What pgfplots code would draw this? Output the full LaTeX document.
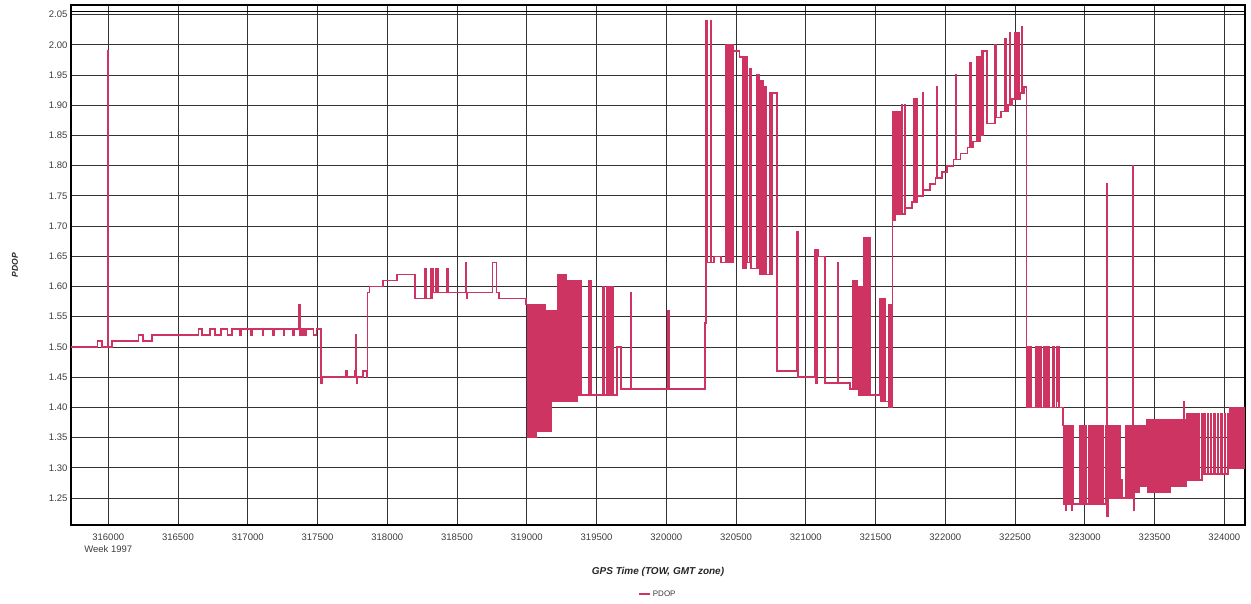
\documentclass[border=0pt]{standalone}
\usepackage{pgfplots}
\pgfplotsset{compat=1.18}
\usepackage{pgfplotstable}
\usepackage{fontspec}
\setmainfont{Liberation Sans}
\definecolor{pdopcol}{RGB}{205,52,98}
\definecolor{tickcol}{RGB}{60,60,60}
\pgfplotstableread{
t pdop
315733 1.50
315924 1.51
315957 1.50
315995 1.99
316003 1.50
316027 1.51
316218 1.52
316251 1.51
316313 1.52
316648 1.53
316670 1.52
316729 1.53
316765 1.52
316808 1.53
316856 1.52
316885 1.53
316940 1.52
316950 1.53
317025 1.52
317033 1.53
317105 1.52
317112 1.53
317180 1.52
317188 1.53
317256 1.52
317264 1.53
317326 1.52
317334 1.53
317365 1.57
317373 1.52
317380 1.53
317390 1.52
317400 1.53
317408 1.52
317416 1.53
317470 1.52
317494 1.53
317523 1.44
317530 1.45
317705 1.46
317712 1.45
317768 1.46
317774 1.52
317780 1.44
317786 1.45
317828 1.46
317852 1.45
317858 1.59
317872 1.60
317971 1.61
318068 1.62
318199 1.58
318268 1.63
318278 1.58
318310 1.63
318316 1.58
318322 1.63
318328 1.59
318346 1.63
318352 1.59
318362 1.63
318368 1.59
318428 1.63
318434 1.59
318560 1.64
318568 1.58
318575 1.59
318753 1.64
318784 1.59
318803 1.58
318995 1.57
319010 1.35
319020 1.57
319030 1.35
319036 1.57
319041 1.35
319046 1.57
319051 1.35
319056 1.57
319061 1.35
319066 1.57
319071 1.36
319076 1.57
319081 1.36
319086 1.57
319091 1.36
319096 1.57
319101 1.36
319106 1.57
319111 1.36
319116 1.57
319121 1.36
319126 1.57
319131 1.36
319136 1.56
319141 1.36
319146 1.56
319151 1.36
319156 1.56
319161 1.36
319166 1.56
319171 1.36
319178 1.56
319183 1.41
319190 1.56
319196 1.41
319205 1.56
319212 1.41
319220 1.62
319232 1.41
319240 1.62
319250 1.41
319258 1.62
319270 1.41
319275 1.62
319285 1.41
319297 1.61
319305 1.41
319315 1.61
319322 1.41
319330 1.61
319336 1.41
319340 1.61
319346 1.41
319350 1.61
319356 1.41
319360 1.61
319366 1.42
319372 1.61
319378 1.42
319384 1.61
319392 1.42
319441 1.61
319450 1.42
319456 1.61
319465 1.42
319548 1.60
319556 1.42
319572 1.60
319580 1.42
319590 1.60
319598 1.42
319604 1.60
319616 1.42
319645 1.50
319674 1.43
319745 1.59
319750 1.43
320012 1.56
320018 1.43
320278 1.54
320283 2.04
320290 1.64
320318 2.04
320325 1.64
320340 1.65
320390 1.64
320430 2.00
320436 1.64
320442 2.00
320450 1.64
320456 2.00
320464 1.64
320470 2.00
320478 1.64
320482 1.99
320525 1.98
320550 1.63
320556 1.98
320565 1.63
320572 1.98
320578 1.64
320600 1.96
320606 1.63
320648 1.95
320653 1.63
320658 1.95
320663 1.63
320668 1.94
320673 1.62
320678 1.94
320683 1.62
320688 1.94
320693 1.62
320698 1.93
320703 1.62
320708 1.93
320713 1.62
320743 1.92
320750 1.62
320760 1.92
320795 1.46
320935 1.69
320942 1.45
321066 1.66
321072 1.44
321080 1.66
321092 1.65
321137 1.44
321226 1.64
321232 1.44
321315 1.43
321337 1.61
321345 1.43
321352 1.61
321366 1.43
321377 1.60
321383 1.42
321390 1.60
321401 1.42
321418 1.68
321426 1.42
321432 1.68
321440 1.42
321446 1.68
321458 1.42
321531 1.58
321538 1.41
321546 1.58
321554 1.41
321560 1.58
321567 1.41
321592 1.57
321598 1.40
321604 1.57
321610 1.40
321616 1.57
321622 1.71
321626 1.89
321632 1.71
321638 1.89
321644 1.72
321650 1.89
321656 1.72
321662 1.89
321668 1.72
321674 1.89
321680 1.72
321686 1.90
321690 1.72
321712 1.90
321716 1.73
321760 1.74
321772 1.91
321778 1.74
321784 1.91
321790 1.74
321796 1.91
321800 1.75
321838 1.92
321843 1.76
321890 1.77
321930 1.78
321940 1.93
321945 1.78
321975 1.79
322010 1.80
322060 1.81
322073 1.95
322078 1.81
322110 1.82
322160 1.83
322178 1.97
322183 1.83
322200 1.84
322226 1.98
322232 1.84
322238 1.98
322244 1.84
322250 1.98
322256 1.85
322262 1.99
322268 1.85
322274 1.99
322300 1.87
322355 2.00
322362 1.88
322400 1.89
322428 2.01
322434 1.89
322450 1.90
322460 2.02
322466 1.90
322480 1.91
322500 2.02
322506 1.91
322512 2.02
322518 1.91
322524 2.02
322530 1.91
322536 1.92
322548 2.03
322554 1.92
322566 1.93
322583 1.40
322585 1.50
322590 1.40
322596 1.50
322602 1.40
322608 1.50
322614 1.40
322650 1.50
322658 1.40
322664 1.50
322670 1.40
322678 1.50
322684 1.40
322707 1.50
322714 1.40
322720 1.50
322727 1.40
322738 1.50
322745 1.40
322774 1.50
322780 1.40
322798 1.50
322805 1.41
322812 1.50
322817 1.40
322845 1.37
322851 1.24
322856 1.37
322862 1.23
322867 1.37
322874 1.24
322881 1.37
322887 1.24
322888 1.37
322894 1.24
322900 1.37
322906 1.23
322911 1.37
322917 1.24
322965 1.37
322971 1.24
322977 1.37
322983 1.24
322989 1.37
322995 1.24
323001 1.37
323007 1.24
323025 1.37
323031 1.24
323037 1.37
323043 1.24
323060 1.37
323066 1.24
323072 1.37
323078 1.24
323085 1.37
323091 1.24
323097 1.37
323103 1.24
323110 1.37
323116 1.24
323122 1.37
323132 1.24
323150 1.37
323157 1.77
323161 1.22
323166 1.37
323172 1.25
323178 1.37
323184 1.25
323192 1.37
323199 1.25
323205 1.37
323211 1.25
323218 1.37
323226 1.25
323234 1.37
323240 1.25
323246 1.37
323252 1.25
323262 1.28
323268 1.25
323295 1.37
323301 1.25
323305 1.37
323312 1.25
323318 1.37
323324 1.25
323330 1.37
323338 1.25
323344 1.80
323348 1.23
323354 1.37
323360 1.26
323372 1.37
323380 1.26
323388 1.37
323396 1.27
323408 1.37
323414 1.27
323420 1.37
323431 1.27
323443 1.38
323450 1.26
323457 1.38
323464 1.26
323471 1.38
323478 1.26
323485 1.38
323492 1.26
323499 1.38
323506 1.26
323513 1.38
323520 1.26
323527 1.38
323534 1.26
323541 1.38
323548 1.26
323555 1.38
323562 1.26
323569 1.38
323576 1.26
323583 1.38
323590 1.26
323597 1.38
323604 1.26
323611 1.38
323618 1.27
323625 1.38
323632 1.27
323639 1.38
323646 1.27
323653 1.38
323660 1.27
323667 1.38
323674 1.27
323681 1.38
323688 1.27
323695 1.38
323706 1.41
323710 1.27
323716 1.38
323723 1.27
323730 1.39
323737 1.28
323744 1.39
323751 1.28
323758 1.39
323765 1.28
323772 1.39
323779 1.28
323786 1.39
323793 1.28
323800 1.39
323807 1.28
323814 1.39
323820 1.28
323838 1.39
323845 1.29
323858 1.39
323864 1.29
323878 1.39
323884 1.29
323900 1.39
323906 1.29
323925 1.39
323932 1.29
323950 1.39
323956 1.29
323975 1.39
323982 1.29
324000 1.39
324006 1.29
324025 1.39
324032 1.30
324042 1.40
324050 1.30
324060 1.40
324068 1.30
324080 1.40
324088 1.30
324100 1.40
324108 1.30
324120 1.40
324130 1.30
324140 1.40
324148 1.40
}\pdoptable
\begin{document}
\begin{tikzpicture}
\path[use as bounding box] (-71pt,-79pt) rectangle (1180pt,525pt);
\begin{axis}[
  scale only axis,
  width=1174pt, height=520pt,
  xmin=315733, xmax=324148,
  ymin=1.2053, ymax=2.066,
  scaled x ticks=false, scaled y ticks=false,
  xtick={316000,316500,317000,317500,318000,318500,319000,319500,320000,320500,321000,321500,322000,322500,323000,323500,324000},
  xticklabels={{316000\\Week 1997},316500,317000,317500,318000,318500,319000,319500,320000,320500,321000,321500,322000,322500,323000,323500,324000},
  ytick={1.25,1.30,1.35,1.40,1.45,1.50,1.55,1.60,1.65,1.70,1.75,1.80,1.85,1.90,1.95,2.00,2.05},
  yticklabel={\pgfmathprintnumber[fixed,fixed zerofill,precision=2,assume math mode=true]{\tick}},
  xticklabel style={font=\fontsize{9.5}{12}\selectfont, text=tickcol, align=center, yshift=-5pt},
  yticklabel style={font=\fontsize{9.5}{12}\selectfont, text=tickcol},
  major tick length=0pt,
  grid=major,
  major grid style={black!80, line width=0.9pt},
  axis line style={black, line width=1.6pt},
  xlabel={GPS Time (TOW, GMT zone)},
  xlabel style={at={(axis description cs:0.5,-0.0904)}, anchor=center, font=\fontsize{10}{12}\selectfont\bfseries\itshape, text=black!85},
  ylabel={PDOP},
  ylabel style={at={(axis description cs:-0.0477,0.5)}, anchor=center, rotate=0, font=\fontsize{8.5}{10}\selectfont\bfseries\itshape, text=black!85},
  legend style={at={(axis description cs:0.5,-0.1327)}, anchor=center, draw=none, fill=none, font=\fontsize{8}{10}\selectfont, text=tickcol, inner sep=0pt},
  legend image code/.code={\draw[#1, line width=1.5pt] (0pt,0pt) -- (11pt,0pt);},
]
\addplot[const plot, pdopcol, line width=1.6pt] table[x=t, y=pdop] {\pdoptable};
\addlegendentry{PDOP}
\draw[black, line width=1.2pt] (rel axis cs:0,0.9872) -- (rel axis cs:1,0.9872);
\end{axis}
\end{tikzpicture}
\end{document}
